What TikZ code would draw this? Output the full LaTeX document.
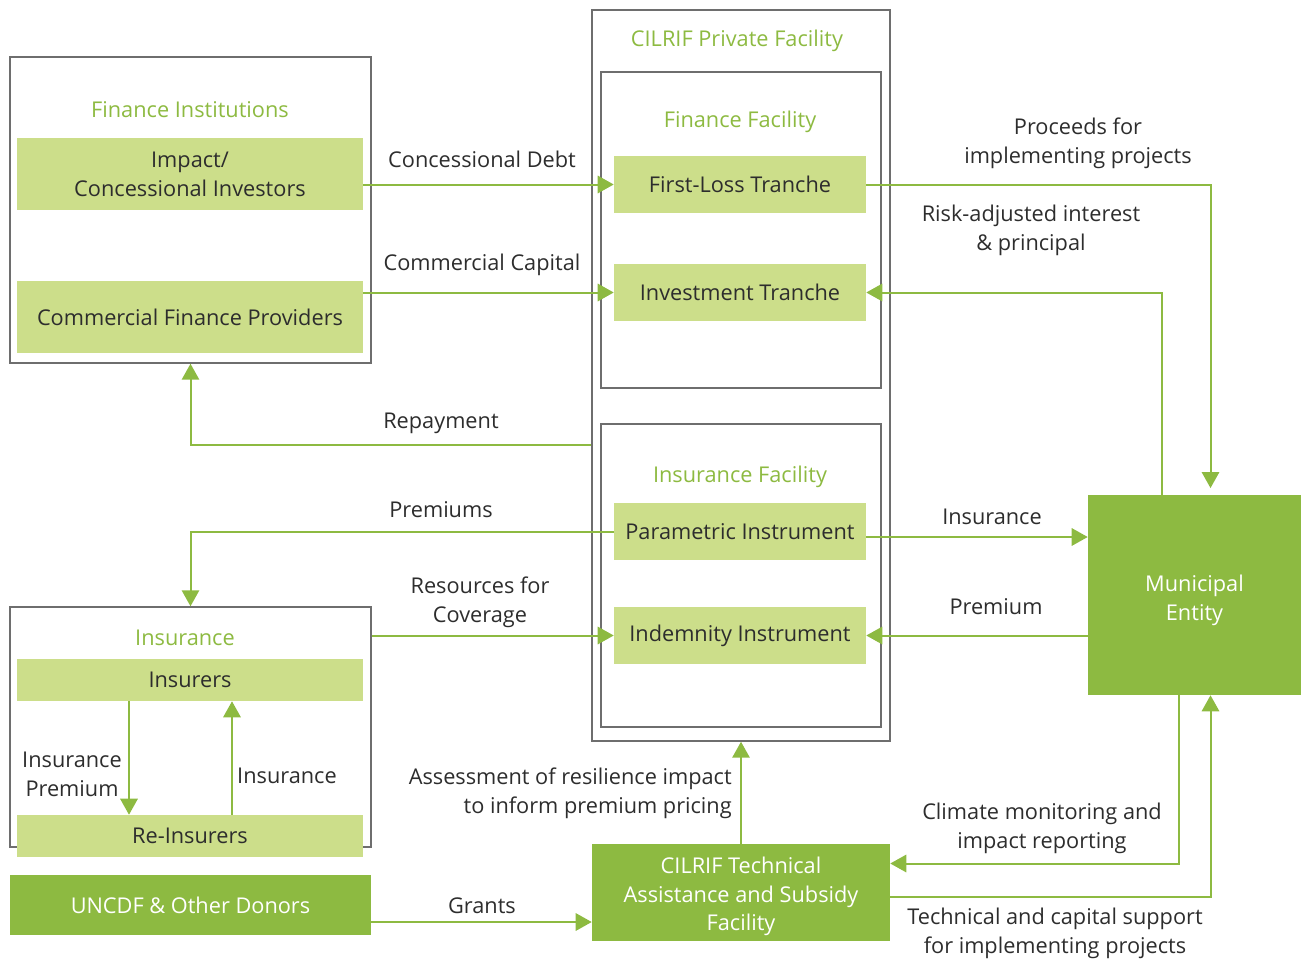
\documentclass[tikz,border=0pt]{standalone}
\usepackage{fontspec}
\setmainfont{Open Sans}
\usetikzlibrary{calc,arrows.meta}
\definecolor{dkgreen}{RGB}{141,186,65}
\definecolor{ltgreen}{RGB}{204,222,138}
\definecolor{framegray}{RGB}{110,110,110}
\definecolor{ink}{RGB}{45,45,45}
\begin{document}
\begin{tikzpicture}[x=0.75pt,y=-0.75pt,
  font=\fontsize{16.3}{21.6}\selectfont,
  % a rectangle given by its corners (left, top, right, bottom)
  span/.style n args={4}{minimum width={(#3-#1)*0.75pt}, minimum height={(#4-#2)*0.75pt},
    at={(#1/2+#3/2,#2/2+#4/2)}},
  group/.style={draw=framegray, line width=1.1pt, inner sep=0pt},
  entity/.style={fill=ltgreen, inner sep=0pt, align=center, text=ink},
  actor/.style={fill=dkgreen, inner sep=0pt, align=center, text=white},
  heading/.style={text=dkgreen, inner sep=0pt},
  flow/.style={draw=dkgreen, line width=1.5pt, -{Triangle[length=12pt,width=13pt]}},
  lbl/.style={align=center, text=ink, inner sep=0pt}]
\useasboundingbox (0,0) rectangle (1306,960);

% containers
\node[group, span={10}{57}{371}{363}] (fin) {};
\node[group, span={592}{10}{890}{741}] (cpf) {};
\node[group, span={601}{72}{881}{388}] (ffac) {};
\node[group, span={601}{424}{881}{727}] (ifac) {};
\node[group, span={10}{607}{371}{847}] (ins) {};

% headings
\node[heading] (hfin) at (190,110) {Finance Institutions};
\node[heading] (hcpf) at (737,41) {CILRIF Private Facility};
\node[heading] (hffac) at (740,122) {Finance Facility};
\node[heading] (hifac) at (740,477) {Insurance Facility};
\node[heading] (hins) at (185,638) {Insurance};

% participants
\node[entity, span={17}{138}{363}{210}] (ici) {Impact/\\Concessional Investors};
\node[entity, span={17}{281}{363}{353}] (cfp) {Commercial Finance Providers};
\node[entity, span={614}{156}{866}{213}] (flt) {First-Loss Tranche};
\node[entity, span={614}{264}{866}{321}] (itr) {Investment Tranche};
\node[entity, span={614}{503}{866}{560}] (par) {Parametric Instrument};
\node[entity, span={614}{607}{866}{664}] (ind) {Indemnity Instrument};
\node[entity, span={17}{659}{363}{701}] (insr) {Insurers};
\node[entity, span={17}{815}{363}{857}] (reins) {Re-Insurers};
\node[actor, span={10}{875}{371}{935}] (don) {UNCDF \& Other Donors};
\node[actor, span={592}{844}{890}{941}] (tas) {\rule{0pt}{18.4pt}CILRIF Technical\\Assistance and Subsidy\\Facility};
\node[actor, span={1088}{495}{1301}{695}] (mun) {\rule{0pt}{20pt}Municipal\\Entity};

% helper points on the sides of boxes
\coordinate (insOut) at ($(par.east)+(0,5.5)$);
\coordinate (grOut) at ($(don.east)+(0,17)$);
\coordinate (repOut) at (cpf.west |- 0,445);

% flows
\draw[flow] (ici.east |- flt.west) -- (flt.west);
\draw[flow] (cfp.east |- itr.west) -- (itr.west);
\draw[flow] (repOut) -| (fin.south);
\draw[flow] (par.west) -| (ins.north);
\draw[flow] (ins.east |- ind.west) -- (ind.west);
\draw[flow, shorten >=5pt] (flt.east) -| ($(mun.north)+(16,0)$);
\draw[flow] ($(mun.north)+(-33,0)$) |- (itr.east);
\draw[flow] (insOut) -- (insOut -| mun.west);
\draw[flow] (mun.west |- ind.east) -- (ind.east);
\draw[flow] ($(insr.south)+(-61,0)$) -- ($(reins.north)+(-61,0)$);
\draw[flow] ($(reins.north)+(42,0)$) -- ($(insr.south)+(42,0)$);
\draw[flow] (grOut) -- (grOut -| tas.west);
\draw[flow] (tas.north) -- (cpf.south);
\draw[flow] ($(mun.south)+(-16,0)$) |- ($(tas.east)+(0,-29)$);
\draw[flow] ($(tas.east)+(0,4)$) -| ($(mun.south)+(16,0)$);

% flow labels
\node[lbl] (l1) at (482,159) {Concessional Debt};
\node[lbl] (l2) at (482,265) {Commercial Capital};
\node[lbl] (l3) at (441,423) {Repayment};
\node[lbl] (l4) at (441,510) {Premiums};
\node[lbl] (l5) at (480,602) {Resources for\\Coverage};
\node[lbl] (l6) at (1078,143) {Proceeds for\\implementing projects};
\node[lbl] (l7) at (1031,230) {Risk-adjusted interest\\\& principal};
\node[lbl] (l8) at (992,517) {Insurance};
\node[lbl] (l9) at (996,607) {Premium};
\node[lbl] (l10) at (72,774) {Insurance\\Premium};
\node[lbl] (l11) at (287,776) {Insurance};
\node[lbl] (l12) at (482,906) {Grants};
\node[lbl, align=right, anchor=east] (l13) at (732,793) {Assessment of resilience impact\\to inform premium pricing};
\node[lbl] (l14) at (1042,828) {Climate monitoring and\\impact reporting};
\node[lbl] (l15) at (1055,933) {Technical and capital support\\for implementing projects};
\end{tikzpicture}
\end{document}
